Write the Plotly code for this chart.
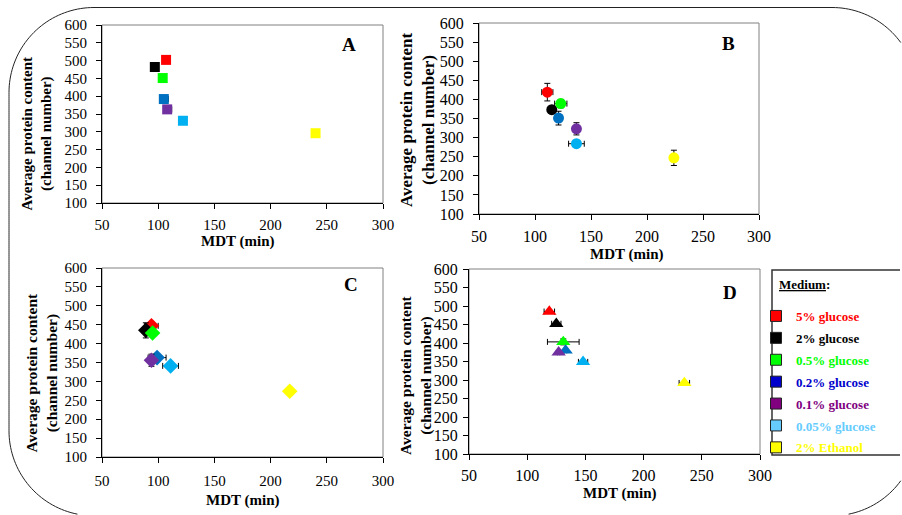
import math
import plotly.graph_objects as go

# Growth media and their colours
media = ["5% glucose", "2% glucose", "0.5% glucose", "0.2% glucose",
         "0.1% glucose", "0.05% glucose", "2% Ethanol"]
point_colors = ["#ff0000", "#000000", "#00ff00", "#0070c0",
                "#7030a0", "#00b0f0", "#ffff00"]
key_colors = ["#ff0000", "#000000", "#00ff00", "#0000cc",
              "#800080", "#66ccff", "#ffff00"]

# Panel A
mdt_a = [107, 97, 104, 105, 108, 122, 240]
prot_a = [502, 482, 451, 392, 363, 331, 296]
mdt_err_a = [0, 0, 3, 4, 4, 3, 0]
prot_err_a = [0, 0, 0, 0, 0, 0, 0]

# Panel B
mdt_b = [111, 115, 123, 121, 137, 137, 224]
prot_b = [419, 373, 389, 351, 323, 284, 247]
mdt_err_b = [5, 2, 5.5, 2, 2, 7, 2]
prot_err_b = [23, 8, 11, 18, 16, 8, 20]

# Panel C
mdt_c = [94, 89, 95, 99, 94, 111, 217]
prot_c = [447, 435, 428, 363, 356, 341, 274]
mdt_err_c = [6, 2, 2, 8, 2, 7, 2]
prot_err_c = [9, 20, 5, 6, 16, 5, 5]

# Panel D
mdt_d = [119, 125, 131, 133, 127, 148, 235]
prot_d = [485, 452, 403, 380, 375, 349, 292]
mdt_err_d = [4.5, 4, 13.6, 1, 1, 4, 4.5]
prot_err_d = [3, 3, 8, 3, 3, 3, 3]

x_ticks = [50, 100, 150, 200, 250, 300]
y_ticks = [100, 150, 200, 250, 300, 350, 400, 450, 500, 550, 600]

# Figure size; layout positions below are given in pixels from the top-left corner
W, H = 902, 515
SERIF = "Liberation Serif, Times New Roman, serif"


def px_x(x):
    return x / W


def px_y(y):
    return 1 - y / H


panels = [
    # letter, symbol, size, data, axis id, plot box (left, right, top, bottom),
    # tick font size, x label standoff, y label standoff
    ("A", "square", 10, (mdt_a, prot_a, mdt_err_a, prot_err_a, True), "", (102, 383, 25, 203), 15, 3, 6),
    ("B", "circle", 11, (mdt_b, prot_b, mdt_err_b, prot_err_b, False), "2", (479, 759, 23, 214), 16, 3, 6),
    ("C", "diamond", 12, (mdt_c, prot_c, mdt_err_c, prot_err_c, False), "3", (102, 383, 268, 457), 15, 5, 6),
    ("D", "triangle-up", 12.5, (mdt_d, prot_d, mdt_err_d, prot_err_d, False), "4", (469, 760, 269, 454), 16, 2, 2),
]

fig = go.Figure()
layout = {}
shapes = []
annotations = []

for letter, symbol, msize, data, ax, box, tfs, xso, yso in panels:
    xs, ys, xe, ye, right_only = data
    for i, name in enumerate(media):
        err_x = dict(type="data", array=[xe[i]], color="black", thickness=1, width=3,
                     visible=xe[i] > 0)
        if right_only:
            err_x["symmetric"] = False
            err_x["arrayminus"] = [0]
        fig.add_trace(go.Scatter(
            x=[xs[i]], y=[ys[i]], mode="markers", name=name, showlegend=False,
            xaxis="x" + ax, yaxis="y" + ax,
            marker=dict(symbol=symbol, size=msize, color=point_colors[i], line=dict(width=0)),
            error_x=err_x,
            error_y=dict(type="data", array=[ye[i]], color="black", thickness=1, width=3,
                         visible=ye[i] > 0),
        ))
    l, r, t, b = box
    common = dict(showgrid=False, zeroline=False, showline=True, linecolor="black", linewidth=1,
                  ticks="outside", ticklen=5, tickcolor="black", automargin=False,
                  tickfont=dict(family=SERIF, size=tfs, color="black"))
    layout["xaxis" + ax] = dict(domain=[px_x(l), px_x(r)], anchor="y" + ax, range=[50, 300],
                                tickvals=x_ticks, ticklabelstandoff=xso, **common)
    layout["yaxis" + ax] = dict(domain=[px_y(b), px_y(t)], anchor="x" + ax, range=[100, 600],
                                tickvals=y_ticks, ticklabelstandoff=yso, **common)
    shapes.append(dict(type="rect", xref="x" + ax + " domain", yref="y" + ax + " domain",
                       x0=0, x1=1, y0=0, y1=1, line=dict(color="#808080", width=1), layer="below"))

# Axis titles and panel letters
ytitle = "<b>Average protein content<br>(channel number)</b>"
for (cx, cy, fs) in [(36.5, 134, 15), (417, 120, 17), (41.5, 373, 15.5), (416, 375, 15.5)]:
    annotations.append(dict(text=ytitle, x=px_x(cx), y=px_y(cy), xref="paper", yref="paper",
                            textangle=-90, showarrow=False, xanchor="center", yanchor="middle",
                            font=dict(family=SERIF, size=fs, color="black")))
for (cx, cy) in [(237, 242), (626, 254), (242, 500), (619, 493)]:
    annotations.append(dict(text="<b>MDT (min)</b>", x=px_x(cx), y=px_y(cy), xref="paper",
                            yref="paper", showarrow=False, xanchor="center", yanchor="middle",
                            font=dict(family=SERIF, size=15, color="black")))
for (letter, cx, cy) in [("A", 349, 45), ("B", 728, 44), ("C", 351, 284), ("D", 730, 292)]:
    annotations.append(dict(text="<b>%s</b>" % letter, x=px_x(cx), y=px_y(cy), xref="paper",
                            yref="paper", showarrow=False, xanchor="center", yanchor="middle",
                            font=dict(family=SERIF, size=19, color="black")))

# Key entries
for i, name in enumerate(media):
    fig.add_trace(go.Scatter(
        x=[None], y=[None], mode="markers", xaxis="x", yaxis="y",
        name='<span style="color:%s"><b>%s</b></span>' % (key_colors[i], name),
        legendgroup=name, showlegend=True,
        marker=dict(symbol="square", size=11, color=key_colors[i],
                    line=dict(color="#222222", width=1)),
    ))

annotations.append(dict(text="<b><u>Medium</u>:</b>", x=px_x(777), y=px_y(284), xref="paper",
                        yref="paper", showarrow=False, xanchor="left", yanchor="middle",
                        font=dict(family=SERIF, size=13, color="black")))

# Outlines are clipped to the figure area
X_MIN, X_MAX = 0.5, W - 0.5
Y_MIN, Y_MAX = 0.5, H - 0.5


def clipped_path(points):
    runs, cur = [], []
    for (x, y) in points:
        if X_MIN <= x <= X_MAX and Y_MIN <= y <= Y_MAX:
            cur.append((x, y))
        elif cur:
            runs.append(cur)
            cur = []
    if cur:
        runs.append(cur)
    parts = []
    for run in runs:
        if len(run) < 2:
            continue
        seg = ["%s%.2f,%.2f" % ("M" if j == 0 else "L", x, -y) for j, (x, y) in enumerate(run)]
        parts.append(" ".join(seg))
    return " ".join(parts)


def line_pts(x0, y0, x1, y1, step=2.0):
    n = max(1, int(math.hypot(x1 - x0, y1 - y0) / step))
    return [(x0 + (x1 - x0) * k / n, y0 + (y1 - y0) * k / n) for k in range(n + 1)]


def arc_pts(cx, cy, rad, a0, a1, n=40):
    return [(cx + rad * math.cos(math.radians(a0 + (a1 - a0) * k / n)),
             cy + rad * math.sin(math.radians(a0 + (a1 - a0) * k / n))) for k in range(n + 1)]


def rounded_frame(l, t, r, b, rad):
    pts = []
    pts += line_pts(l + rad, t, r - rad, t)
    pts += arc_pts(r - rad, t + rad, rad, -90, 0)
    pts += line_pts(r, t + rad, r, b - rad)
    pts += arc_pts(r - rad, b - rad, rad, 0, 90)
    pts += line_pts(r - rad, b, l + rad, b)
    pts += arc_pts(l + rad, b - rad, rad, 90, 180)
    pts += line_pts(l, b - rad, l, t + rad)
    pts += arc_pts(l + rad, t + rad, rad, 180, 270)
    return pts


def pixel_path(path, color, width):
    return dict(type="path", xref="paper", yref="paper", xsizemode="pixel", ysizemode="pixel",
                xanchor=0, yanchor=1, path=path, line=dict(color=color, width=width))


shapes.append(pixel_path(clipped_path(rounded_frame(9, 7.5, 917, 515.8, 85)), "#222222", 1))
key_box = line_pts(910, 270, 772, 270) + line_pts(772, 270, 772, 455) + line_pts(772, 455, 910, 455)
shapes.append(pixel_path(clipped_path(key_box), "#333333", 1.5))

fig.update_layout(
    width=W, height=H, margin=dict(l=0, r=0, t=0, b=0, autoexpand=False),
    paper_bgcolor="white", plot_bgcolor="white",
    showlegend=True,
    legend=dict(x=px_x(756), y=px_y(301), xanchor="left", yanchor="top",
                bgcolor="rgba(0,0,0,0)", borderwidth=0, tracegroupgap=2,
                traceorder="grouped",
                font=dict(family=SERIF, size=13, color="black")),
    shapes=shapes, annotations=annotations,
    **layout,
)

fig.write_html("out.html")
